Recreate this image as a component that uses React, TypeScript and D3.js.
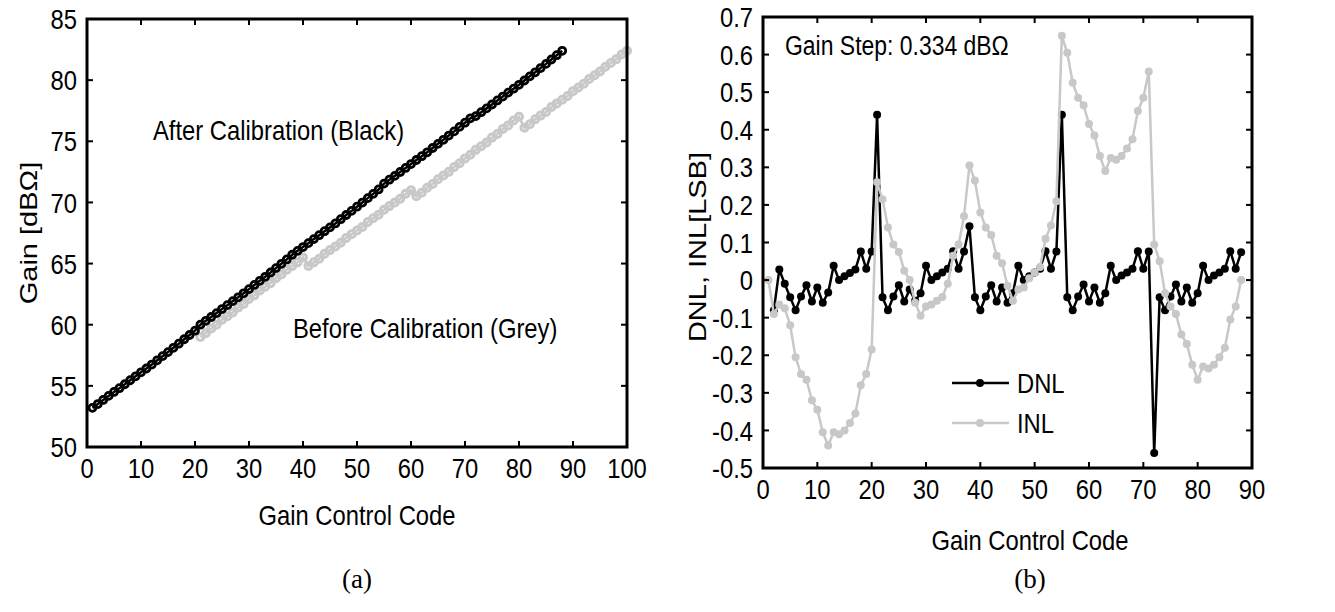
import React from 'react'
import * as d3 from 'd3'

// gain after calibration, codes 1..88
const afterGain = [
  53.2, 53.51, 53.85, 54.18, 54.5, 54.81, 55.13, 55.46, 55.78, 56.11,
  56.42, 56.74, 57.09, 57.43, 57.76, 58.11, 58.45, 58.81, 59.16, 59.51,
  60.0, 60.32, 60.63, 60.95, 61.28, 61.6, 61.93, 62.24, 62.57, 62.91,
  63.25, 63.59, 63.92, 64.27, 64.63, 64.98, 65.34, 65.72, 66.04, 66.35,
  66.67, 67.0, 67.32, 67.65, 67.96, 68.28, 68.63, 68.97, 69.31, 69.65,
  69.99, 70.35, 70.7, 71.06, 71.54, 71.86, 72.17, 72.49, 72.82, 73.14,
  73.47, 73.78, 74.1, 74.45, 74.79, 75.12, 75.47, 75.81, 76.18, 76.52,
  76.88, 77.06, 77.38, 77.69, 78.01, 78.34, 78.66, 78.98, 79.3, 79.62,
  79.97, 80.31, 80.64, 80.99, 81.33, 81.69, 82.04, 82.4
]
// gain before calibration, codes 21..100
const beforeGain = [
  59.0, 59.3, 59.7, 60.0, 60.4, 60.7, 61.0, 61.4, 61.7, 62.1,
  62.4, 62.8, 63.1, 63.4, 63.8, 64.1, 64.5, 64.8, 65.1, 65.5,
  64.8, 65.1, 65.4, 65.8, 66.1, 66.4, 66.7, 67.1, 67.4, 67.7,
  68.0, 68.4, 68.7, 69.0, 69.4, 69.7, 70.0, 70.3, 70.7, 71.0,
  70.5, 70.8, 71.2, 71.5, 71.9, 72.2, 72.5, 72.9, 73.2, 73.6,
  73.9, 74.3, 74.6, 74.9, 75.3, 75.6, 76.0, 76.3, 76.7, 77.0,
  76.1, 76.4, 76.8, 77.1, 77.4, 77.8, 78.1, 78.4, 78.7, 79.1,
  79.4, 79.7, 80.1, 80.4, 80.7, 81.1, 81.4, 81.7, 82.1, 82.4
]
// DNL, codes 2..88
const dnl = [
  -0.08, 0.028, -0.01, -0.046, -0.08, -0.044, -0.014, -0.057, -0.02, -0.06,
  -0.033, 0.038, 0.0, 0.01, 0.019, 0.028, 0.076, 0.03, 0.076, 0.44,
  -0.046, -0.08, -0.044, -0.014, -0.057, -0.025, -0.055, -0.035, 0.038, 0.0,
  0.01, 0.02, 0.03, 0.077, 0.03, 0.076, 0.143, -0.046, -0.08, -0.044,
  -0.014, -0.057, -0.02, -0.06, -0.035, 0.038, 0.0, 0.01, 0.02, 0.03,
  0.077, 0.03, 0.076, 0.44, -0.046, -0.08, -0.044, -0.012, -0.057, -0.02,
  -0.06, -0.035, 0.038, 0.0, 0.012, 0.02, 0.03, 0.077, 0.03, 0.076,
  -0.46, -0.046, -0.08, -0.044, -0.012, -0.057, -0.02, -0.06, -0.035, 0.038,
  0.0, 0.012, 0.02, 0.03, 0.077, 0.03, 0.074
]
// INL, codes 1..88
const inl = [
  0.0, -0.09, -0.065, -0.075, -0.12, -0.205, -0.25, -0.265, -0.32, -0.345,
  -0.405, -0.44, -0.405, -0.41, -0.4, -0.38, -0.355, -0.28, -0.25, -0.185,
  0.26, 0.215, 0.14, 0.095, 0.075, 0.025, 0.0, -0.06, -0.095, -0.07,
  -0.065, -0.055, -0.045, -0.01, 0.065, 0.095, 0.17, 0.305, 0.265, 0.18,
  0.14, 0.12, 0.065, 0.045, -0.015, -0.055, -0.025, -0.02, 0.005, 0.02,
  0.035, 0.11, 0.145, 0.21, 0.65, 0.605, 0.525, 0.485, 0.465, 0.415,
  0.385, 0.33, 0.29, 0.325, 0.32, 0.33, 0.35, 0.375, 0.45, 0.485,
  0.555, 0.095, 0.05, -0.035, -0.07, -0.09, -0.145, -0.17, -0.225, -0.265,
  -0.23, -0.235, -0.225, -0.205, -0.18, -0.105, -0.07, 0.0
]

const leftXTicks = [0, 10, 20, 30, 40, 50, 60, 70, 80, 90, 100]
const leftYTicks = [50, 55, 60, 65, 70, 75, 80, 85]
const rightXTicks = [0, 10, 20, 30, 40, 50, 60, 70, 80, 90]
const rightYTicks = [-0.5, -0.4, -0.3, -0.2, -0.1, 0, 0.1, 0.2, 0.3, 0.4, 0.5, 0.6, 0.7]

const FONT = '"Liberation Sans", Arial, sans-serif'
const SERIF = '"Liberation Serif", "Times New Roman", serif'
const GREY = '#c8c8c8'
const TICK = 6
const FS = 28

// the figure looks squeezed sideways: horizontal text is narrow,
// rotated text keeps its length but gets thinner glyphs
function T({ x, y, anchor = 'start', rotate = 0, size = FS, children }) {
  const tr = rotate
    ? `translate(${x},${y}) rotate(${rotate}) scale(1,0.85)`
    : `translate(${x},${y}) scale(0.85,1)`
  return (
    <text transform={tr} dy="0.36em" textAnchor={anchor} fontSize={size}>{children}</text>
  )
}

function Frame({ x, y, xTicks, yTicks, fmtY }) {
  const [x0, x1] = x.range()
  const [y0, y1] = y.range() // y0 bottom, y1 top
  return (
    <g>
      {xTicks.map(t => (
        <g key={'x' + t}>
          <line x1={x(t)} x2={x(t)} y1={y0} y2={y0 - TICK} stroke="#000" strokeWidth={2} />
          <line x1={x(t)} x2={x(t)} y1={y1} y2={y1 + TICK} stroke="#000" strokeWidth={2} />
          <T x={x(t)} y={y0 + 21} anchor="middle">{t}</T>
        </g>
      ))}
      {yTicks.map(t => (
        <g key={'y' + t}>
          <line x1={x0} x2={x0 + TICK} y1={y(t)} y2={y(t)} stroke="#000" strokeWidth={2} />
          <line x1={x1} x2={x1 - TICK} y1={y(t)} y2={y(t)} stroke="#000" strokeWidth={2} />
          <T x={x0 - 10} y={y(t)} anchor="end">{fmtY(t)}</T>
        </g>
      ))}
      <rect x={x0} y={y1} width={x1 - x0} height={y0 - y1} fill="none" stroke="#000" strokeWidth={3} />
    </g>
  )
}

export default function App() {
  // left panel: gain vs code
  const xl = d3.scaleLinear().domain([0, 100]).range([87, 627])
  const yl = d3.scaleLinear().domain([50, 85]).range([447, 19])
  // right panel: DNL / INL
  const xr = d3.scaleLinear().domain([0, 90]).range([763, 1252])
  const yr = d3.scaleLinear().domain([-0.5, 0.7]).range([468, 17])

  const afterPts = afterGain.map((g, i) => [i + 1, g])
  const beforePts = beforeGain.map((g, i) => [i + 21, g])
  const dnlPts = dnl.map((v, i) => [i + 2, v])
  const inlPts = inl.map((v, i) => [i + 1, v])

  const lineL = d3.line().x(d => xl(d[0])).y(d => yl(d[1]))
  const lineR = d3.line().x(d => xr(d[0])).y(d => yr(d[1]))

  const fmtR = t => (Math.abs(t) < 1e-9 ? '0' : String(Math.round(t * 10) / 10))

  return (
    <svg width={1335} height={612} style={{ display: 'block', position: 'absolute', left: 0, top: 0 }} fontFamily={FONT}>
      <rect width={1335} height={612} fill="#fff" />

      {/* (a) */}
      <path d={lineL(beforePts)} fill="none" stroke={GREY} strokeWidth={2.5} />
      {beforePts.map((d, i) => (
        <circle key={'b' + i} cx={xl(d[0])} cy={yl(d[1])} r={3.5} fill="none" stroke={GREY} strokeWidth={3} />
      ))}
      <path d={lineL(afterPts)} fill="none" stroke="#000" strokeWidth={2.5} />
      {afterPts.map((d, i) => (
        <circle key={'a' + i} cx={xl(d[0])} cy={yl(d[1])} r={3.5} fill="none" stroke="#000" strokeWidth={2.8} />
      ))}
      <Frame x={xl} y={yl} xTicks={leftXTicks} yTicks={leftYTicks} fmtY={t => String(t)} />
      <T x={153} y={130}>After Calibration (Black)</T>
      <T x={293} y={328}>Before Calibration (Grey)</T>
      <T x={357} y={515} anchor="middle">Gain Control Code</T>
      <T x={28} y={233} rotate={-90} anchor="middle" size={29}>Gain [dBΩ]</T>
      <text x={357} y={578} dy="0.36em" textAnchor="middle" fontSize={27} fontFamily={SERIF}>(a)</text>

      {/* (b) */}
      <path d={lineR(dnlPts)} fill="none" stroke="#000" strokeWidth={2.5} />
      {dnlPts.map((d, i) => (
        <circle key={'d' + i} cx={xr(d[0])} cy={yr(d[1])} r={4} fill="#000" />
      ))}
      <path d={lineR(inlPts)} fill="none" stroke={GREY} strokeWidth={2.5} />
      {inlPts.map((d, i) => (
        <circle key={'n' + i} cx={xr(d[0])} cy={yr(d[1])} r={4} fill={GREY} />
      ))}
      <Frame x={xr} y={yr} xTicks={rightXTicks} yTicks={rightYTicks} fmtY={fmtR} />
      <T x={785} y={45} size={27}>Gain Step: 0.334 dBΩ</T>
      <line x1={952} x2={1009} y1={383} y2={383} stroke="#000" strokeWidth={2.5} />
      <circle cx={980} cy={383} r={4} fill="#000" />
      <T x={1017} y={383}>DNL</T>
      <line x1={952} x2={1009} y1={423} y2={423} stroke={GREY} strokeWidth={2.5} />
      <circle cx={980} cy={423} r={4} fill={GREY} />
      <T x={1017} y={423}>INL</T>
      <T x={1030} y={540} anchor="middle">Gain Control Code</T>
      <T x={697} y={247} rotate={-90} anchor="middle" size={29}>DNL, INL[LSB]</T>
      <text x={1030} y={578} dy="0.36em" textAnchor="middle" fontSize={27} fontFamily={SERIF}>(b)</text>
    </svg>
  )
}
